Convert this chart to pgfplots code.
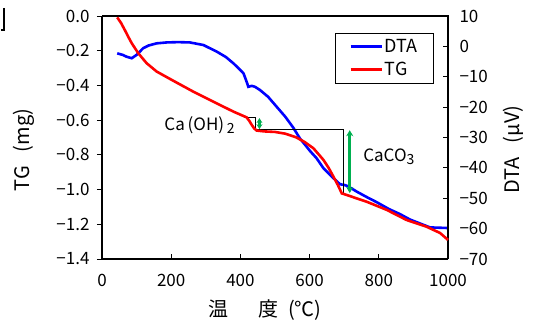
\documentclass[border=0pt]{standalone}
\usepackage{pgfplots}
\pgfplotsset{compat=1.18}
\usetikzlibrary{arrows.meta}
\usepackage{fontspec}
\setmainfont{Noto Sans CJK JP}
\definecolor{tgred}{RGB}{255,0,0}
\definecolor{dtablue}{RGB}{0,0,255}
\definecolor{arrgreen}{RGB}{0,176,80}
\newcommand{\tickfont}{\fontsize{17pt}{20pt}\selectfont}
\newcommand{\labfont}{\fontsize{20pt}{24pt}\selectfont}
\begin{document}
\begin{tikzpicture}[font=\tickfont]
\useasboundingbox (-102pt,-63pt) rectangle (432pt,259pt);
\draw[line width=1.6pt] (-98pt,251pt) -- (-98pt,229pt) -- (-101pt,229pt);
% DTA axis (right)
\begin{axis}[
  at={(0,0)}, anchor=south west,
  scale only axis, width=346pt, height=243pt,
  xmin=0, xmax=1000, ymin=-70, ymax=10,
  axis x line=none, axis y line*=right,
  ytick={10,0,-10,-20,-30,-40,-50,-60,-70},
  yticklabels={10,0,−10,−20,−30,−40,−50,−60,−70},
  ytick align=inside, major tick length=5pt,
  tick style={black, line width=0.8pt},
  yticklabel style={font=\tickfont, xshift=8pt},
  axis line style={line width=1.6pt},
  ylabel={DTA\hspace{14pt}(μV)},
  ylabel style={font=\labfont, at={(axis description cs:1.19,0.45)}, anchor=center},
  legend style={at={(0.96,0.930)}, anchor=north east, draw=black, line width=0.8pt,
    font=\fontsize{18pt}{21pt}\selectfont, inner xsep=14pt, inner ysep=4pt, row sep=4pt,
    legend cell align=left},
  legend image code/.code={\draw[#1] (0pt,0pt) -- (31pt,0pt);},
]
\addplot[dtablue, line width=2.6pt] coordinates {
(44,-2.3) (60,-2.8) (71,-3.4) (86,-3.9) (100,-2.8) (119,-0.6) (135,0.3) (158,1.0)
(187,1.3) (220,1.4) (254,1.3) (293,0.45) (332,-1.75) (358,-3.5) (380,-5.6)
(400,-7.8) (409,-8.9) (416,-11) (423,-13.3) (433,-13.0) (442,-13.3) (457,-14.4)
(480,-16.6) (505,-19.9) (530,-23.2) (553,-26.8) (572,-30.3) (601,-34.4)
(620,-36.8) (640,-40.1) (669,-43.4) (688,-45.4) (700,-45.6) (710,-46.0) (736,-47.8)
(765,-49.6) (794,-51.3) (830,-53.6) (861,-55.2) (890,-57.0) (919,-58.3) (948,-59.6)
(975,-59.7) (1000,-59.8)
};
\addlegendentry{DTA}
\addlegendimage{tgred, line width=2.6pt}
\addlegendentry{TG}
\end{axis}
% TG axis (left)
\begin{axis}[
  at={(0,0)}, anchor=south west,
  scale only axis, width=346pt, height=243pt,
  xmin=0, xmax=1000, ymin=-1.4, ymax=0,
  axis y line*=left, axis x line*=bottom,
  xtick={0,200,400,600,800,1000},
  xticklabels={0,200,400,600,800,1000},
  ytick={0,-0.2,-0.4,-0.6,-0.8,-1.0,-1.2,-1.4},
  yticklabels={0.0,−0.2,−0.4,−0.6,−0.8,−1.0,−1.2,−1.4},
  xtick align=inside, ytick align=outside, major tick length=5pt,
  tick style={black, line width=0.8pt},
  xticklabel style={font=\tickfont, yshift=-12pt},
  yticklabel style={font=\tickfont, xshift=-4pt},
  axis line style={line width=1.6pt},
  ylabel={TG\hspace{14pt}(mg)},
  ylabel style={font=\labfont, at={(axis description cs:-0.225,0.449)}, anchor=center},
  xlabel={温\hspace{30pt}度\hspace{10pt}(℃)},
  xlabel style={font=\labfont, at={(axis description cs:0.471,-0.21)}, anchor=center},
  clip=false,
]
\draw[line width=1.6pt] (axis cs:0,0) -- (axis cs:1000,0) -- (axis cs:1000,-1.4);
% annotation lines
\addplot[black, line width=0.8pt] coordinates {(418,-0.584) (442,-0.584) (442,-0.655) (699,-0.655) (699,-1.025)};
\addplot[tgred, line width=2.6pt] coordinates {
(44,-0.008) (55,-0.04) (66,-0.081) (76,-0.12) (86,-0.157) (105,-0.215) (129,-0.272)
(158,-0.32) (206,-0.373) (264,-0.436) (322,-0.494) (380,-0.551) (418,-0.584)
(426,-0.605) (433,-0.628) (440,-0.648) (447,-0.660) (470,-0.665) (500,-0.668)
(530,-0.678) (560,-0.698) (585,-0.725) (611,-0.762) (640,-0.829) (655,-0.875)
(669,-0.926) (682,-0.975) (693,-1.022) (707,-1.031) (735,-1.05) (765,-1.07)
(823,-1.117) (880,-1.175) (938,-1.214) (977,-1.25) (1000,-1.29)
};
\addplot[arrgreen, line width=2.4pt, {Stealth[length=5pt,width=6pt]}-{Stealth[length=5pt,width=6pt]}] coordinates {(455,-0.588) (455,-0.652)};
\addplot[arrgreen, line width=2.8pt, {Stealth[length=6pt,width=7pt]}-{Stealth[length=6pt,width=7pt]}] coordinates {(716,-0.658) (716,-1.020)};
\node[anchor=center, font=\tickfont] at (axis cs:282,-0.628) {Ca\,(OH)\,\raisebox{-0.4ex}{\fontsize{14pt}{16pt}\selectfont 2}};
\node[anchor=center, font=\tickfont] at (axis cs:829,-0.81) {CaCO\raisebox{-0.4ex}{\fontsize{14pt}{16pt}\selectfont 3}};
\end{axis}
\end{tikzpicture}
\end{document}
